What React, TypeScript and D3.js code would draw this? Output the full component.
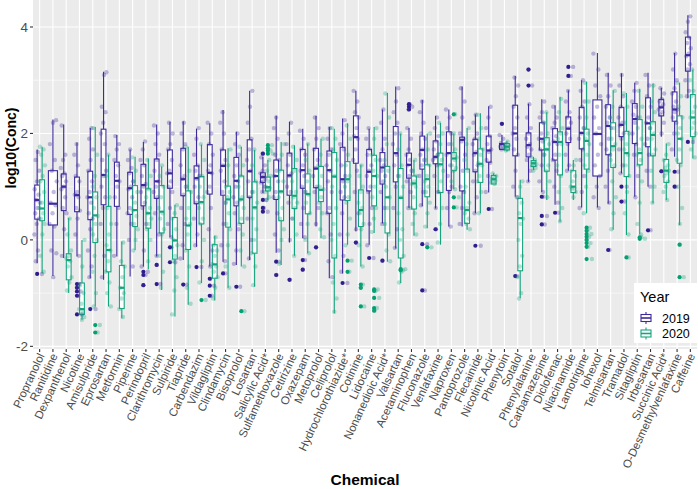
import React from 'react';
import * as d3 from 'd3';

const categories = ['Propranolol','Ranitidine','Dexpanthenol','Nicotine','Amisulpride','Eprosartan','Metformin','Piperine','Perindopril','Clarithromycin','Sulpiride','Tiapride','Carbendazim','Vildagliptin','Clindamycin','Bisoprolol','Losartan','Salicylic Acid*','Sulfamethoxazole','Cetirizine','Oxazepam','Metoprolol','Celiprolol','Hydrochlorothiazide*','Cotinine','Lidocaine','Nonanedioic Acid*','Valsartan','Acetaminophen','Fluconazole','Venlafaxine','Naproxen','Pantoprozole','Flecainide','Nicotinic Acid','Phenytoin','Sotalol','Phenylalanine','Carbamazepine','Diclofenac','Niacinamide','Lamotrigine','Iohexol','Telmisartan','Tramadol','Sitagliptin','Irbesartan','Succinic Acid*','O-Desmethylvenlafaxine','Caffeine'];

// [lower whisker, q1, median, q3, upper whisker]
const box2019: (number[] | null)[] = [
  [-0.44,0.39,0.75,1.03,1.7],[-0.68,0.28,0.68,1.3,2.26],[-0.34,0.55,1.0,1.24,2.17],[-0.31,0.53,0.84,1.18,1.83],[-0.72,0.38,0.8,1.29,2.1],
  [-0.75,0.66,1.22,2.08,3.16],[-0.31,0.63,1.11,1.46,1.97],[-0.69,0.48,0.97,1.27,1.7],[-0.5,0.64,1.03,1.42,1.84],[-0.31,0.78,1.1,1.52,2.17],
  [0.05,0.97,1.25,1.69,2.22],[-0.38,0.83,1.14,1.72,2.23],[-0.13,0.68,1.16,1.39,2.09],[-0.5,0.86,1.26,1.79,2.19],[-0.41,0.84,1.39,1.69,2.44],
  [-0.47,0.64,1.11,1.55,2.03],[-0.38,0.8,1.29,1.88,2.8],[0.88,1.08,1.18,1.26,1.56],[-0.24,0.76,1.2,1.5,2.33],[-0.05,0.84,1.21,1.63,2.22],
  [0.03,0.97,1.31,1.7,2.09],[0.25,0.98,1.34,1.72,2.33],[-0.72,0.5,1.31,1.67,2.12],[-0.63,0.75,1.14,1.74,2.28],[0.16,1.44,1.93,2.33,2.8],
  [-0.09,0.92,1.28,1.7,2.09],[0.31,1.05,1.36,1.64,2.45],[-0.16,1.09,1.63,2.13,2.88],[0.6,1.16,1.41,1.63,2.1],[0.63,1.33,1.69,1.95,2.63],
  [0.59,1.43,1.56,1.86,2.33],[0.25,0.93,1.63,2.03,2.45],[0.25,0.92,1.88,1.93,2.88],[0.5,1.28,1.63,1.89,2.36],[0.89,1.46,1.68,1.95,2.51],
  [1.69,1.7,1.8,1.81,1.97],[0.81,1.58,2.0,2.53,3.08],[1.09,1.56,1.78,2.01,2.56],[0.9,1.69,1.9,2.2,2.64],[0.66,1.5,1.84,2.09,2.53],
  [1.3,1.83,2.09,2.31,2.81],[0.61,1.71,2.01,2.49,3.0],[0.61,1.2,1.99,2.63,3.51],[0.68,1.6,2.14,2.54,3.14],[1.25,1.94,2.16,2.49,3.13],
  [0.81,1.81,2.27,2.56,2.95],[1.0,1.75,2.19,2.67,3.14],[1.94,2.33,2.49,2.64,2.86],[1.56,2.23,2.45,2.78,3.51],[2.66,3.17,3.47,3.81,4.22]
];
const box2020: (number[] | null)[] = [
  [-0.63,0.36,0.59,1.13,1.75],null,[-1.0,-0.75,-0.38,-0.26,0.41],[-1.5,-1.4,-1.3,-0.81,0.0],[-1.25,-0.05,0.46,0.9,2.12],
  [-1.25,-0.6,-0.19,0.63,1.6],[-1.47,-1.29,-0.9,-0.48,-0.03],[-0.19,0.25,0.56,1.02,1.56],[-0.55,0.22,0.5,0.96,1.53],[-0.94,0.13,0.53,1.02,1.38],
  [-1.44,-0.36,-0.01,0.42,0.66],[-1.22,-0.18,0.27,0.92,1.75],[-0.81,0.3,0.71,1.19,1.79],[-1.14,-0.72,-0.46,-0.09,0.08],[-0.9,0.24,0.76,1.01,1.72],
  [-0.5,0.31,0.76,1.2,1.75],[-0.88,-0.25,0.61,1.09,1.69],[0.75,0.92,0.99,1.18,1.5],[-0.47,0.36,0.91,1.31,1.84],[-0.3,0.59,0.83,1.34,1.78],
  [-0.25,0.49,0.86,1.24,1.81],[0.03,0.72,0.94,1.38,1.9],[-1.38,-0.34,1.19,1.64,2.09],[-0.09,0.74,1.14,1.47,2.19],[-0.5,0.25,0.56,0.94,1.41],
  [0.13,0.64,1.2,1.59,2.12],[-0.41,0.13,0.8,1.38,2.76],[-0.81,-0.34,0.79,1.34,2.0],[0.08,0.58,1.06,1.2,1.5],[0.22,0.81,1.14,1.41,2.0],
  [-0.09,0.89,1.42,1.63,2.2],[0.95,1.3,1.53,1.64,2.0],[0.19,0.31,0.56,1.33,2.1],[0.5,1.08,1.43,1.71,2.38],[1.05,1.05,1.14,1.21,1.25],
  [1.66,1.69,1.75,1.81,1.86],[-1.09,-0.58,0.41,0.78,1.13],[1.31,1.38,1.44,1.49,1.56],[0.75,1.29,1.7,1.92,2.4],[0.34,1.22,1.84,2.03,2.69],
  [0.75,0.89,1.0,1.3,1.5],[0.5,1.33,1.86,2.08,2.97],null,[0.19,1.36,1.76,2.2,2.81],[0.09,1.19,1.63,2.04,2.76],
  [0.1,1.41,1.63,2.26,2.84],[0.69,1.58,1.97,2.22,2.94],[0.75,1.08,1.3,1.51,1.81],[0.28,1.44,1.9,2.33,2.95],[1.53,1.94,2.3,2.73,3.2]
];
const outliers2019: number[][] = [
  [-0.64],[],[],[-0.83,-0.9,-0.97,-1.05,-1.4],[-1.3],[],[],[],[-0.6,-0.66,-0.85],[-0.47,-0.83],
  [-0.14,-0.42],[-0.84],[-0.51],[-0.73,-0.86,-1.05],[-0.63],[-0.88],[],[1.62,0.75,0.6,0.53],[-0.41,-0.66],[-0.75],
  [-0.38,-0.56],[-0.14],[],[-0.81],[-0.05],[-0.34],[-0.39],[],[2.45,2.5,2.55],[-0.08,-0.95],
  [0.2],[],[],[-0.11],[0.58],[2.18],[-0.68],[3.2,2.9],[0.81,0.45,0.29],[0.51],
  [3.25,3.08],[],[],[-0.19],[1.0,0.72],[],[0.18],[1.29],[1.28,1.0],[1.84]
];
const outliers2020: number[][] = [
  [],[],[],[],[-1.6,-1.74],[],[],[],[],[],
  [],[],[-1.13],[],[],[-1.34],[],[1.62,1.68,1.72,1.78],[],[],
  [],[],[],[-0.39,-0.6],[-0.84,-0.9,-1.25],[-0.93,-0.96,-1.09,-1.28,-1.33],[],[-0.55,-0.57],[],[-0.14],
  [],[2.36,0.8,0.61],[],[],[],[],[],[],[],[],
  [],[0.23,0.17,0.11,0.06,0.0,-0.06,-0.13,-0.36],[],[],[-0.33],[0.05,0.02],[],[],[-0.09,-0.7],[]
];
const points2019: string[] = [
  '1.65 1.5 1.3 1.1 0.95 0.85 0.75 0.7 0.6 0.5 0.4 0.3 0.1 -0.2 -0.4',
  '2.25 2.2 1.8 1.5 1.3 1.1 0.9 0.7 0.65 0.5 0.3 0.25 -0.2 -0.25 -0.7',
  '2.15 1.6 1.5 1.35 1.25 1.2 1.1 1.0 0.95 0.8 0.6 0.5 0.2 -0.3',
  '1.8 1.6 1.4 1.2 1.1 0.9 0.85 0.8 0.6 0.55 0.4 0.1 -0.3',
  '2.1 1.9 1.7 1.5 1.3 1.1 0.9 0.8 0.7 0.5 0.4 0.2 -0.2 -0.5 -0.7',
  '3.15 3.1 2.5 2.4 2.2 2.0 1.8 1.5 1.3 1.2 1.0 0.8 0.6 0.3 -0.3 -0.7',
  '1.95 1.8 1.7 1.5 1.4 1.2 1.1 1.0 0.8 0.6 0.3 -0.3',
  '1.7 1.5 1.35 1.25 1.1 1.0 0.95 0.8 0.6 0.5 0.3 0.0 -0.5',
  '1.85 1.7 1.5 1.4 1.2 1.05 1.0 0.9 0.7 0.6 0.3 -0.2 -0.5',
  '2.15 2.0 1.8 1.6 1.5 1.3 1.1 1.0 0.9 0.8 0.5 0.1 -0.3',
  '2.2 2.0 1.8 1.7 1.5 1.3 1.25 1.1 1.0 0.9 0.6 0.3 0.05',
  '2.2 2.0 1.8 1.7 1.4 1.2 1.15 1.0 0.85 0.6 0.3 -0.1 -0.35',
  '2.1 1.9 1.6 1.4 1.3 1.2 1.15 1.0 0.8 0.7 0.4 0.1 -0.1',
  '2.2 2.0 1.8 1.6 1.4 1.3 1.25 1.0 0.9 0.6 0.2 -0.2 -0.5',
  '2.4 2.2 2.0 1.7 1.5 1.4 1.3 1.1 0.9 0.7 0.3 -0.1 -0.4',
  '2.0 1.8 1.6 1.4 1.2 1.1 1.0 0.8 0.7 0.5 0.2 -0.2 -0.45',
  '2.8 2.5 2.2 1.9 1.7 1.5 1.3 1.1 0.9 0.8 0.4 0.0 -0.35',
  '1.55 1.4 1.3 1.25 1.2 1.18 1.15 1.1 1.08 1.0 0.9',
  '2.3 2.1 1.9 1.6 1.5 1.3 1.2 1.1 0.9 0.8 0.5 0.1 -0.2',
  '2.2 2.0 1.8 1.6 1.4 1.25 1.2 1.0 0.9 0.7 0.4 0.0',
  '2.05 1.9 1.7 1.6 1.4 1.3 1.2 1.0 0.9 0.6 0.3 0.05',
  '2.3 2.1 1.9 1.7 1.5 1.35 1.2 1.0 0.9 0.6 0.3',
  '2.1 1.9 1.7 1.6 1.4 1.3 1.1 0.9 0.6 0.5 0.1 -0.4 -0.7',
  '2.25 2.0 1.8 1.7 1.4 1.2 1.1 0.9 0.8 0.5 0.1 -0.3 -0.6',
  '2.8 2.6 2.4 2.3 2.1 1.95 1.9 1.7 1.5 1.3 0.9 0.5 0.2',
  '2.1 1.9 1.7 1.6 1.4 1.3 1.2 1.0 0.9 0.6 0.3 -0.1',
  '2.45 2.2 1.9 1.7 1.5 1.4 1.3 1.2 1.1 0.9 0.6 0.3',
  '2.85 2.6 2.4 2.2 2.0 1.8 1.6 1.4 1.2 1.0 0.6 0.2 -0.15',
  '2.1 1.9 1.7 1.6 1.5 1.4 1.3 1.2 1.1 0.9 0.6',
  '2.6 2.4 2.2 2.0 1.9 1.7 1.6 1.5 1.4 1.2 0.9 0.65',
  '2.3 2.1 1.95 1.85 1.7 1.6 1.55 1.5 1.4 1.2 0.9 0.6',
  '2.45 2.3 2.1 2.0 1.8 1.6 1.4 1.2 1.0 0.9 0.6 0.25',
  '2.85 2.6 2.3 2.0 1.9 1.85 1.6 1.3 1.0 0.9 0.6 0.3',
  '2.35 2.2 2.0 1.9 1.8 1.65 1.6 1.4 1.3 1.1 0.8 0.5',
  '2.5 2.3 2.1 1.95 1.8 1.7 1.65 1.5 1.45 1.2 0.9',
  '1.97 1.9 1.82 1.8 1.78 1.75 1.72 1.7',
  '3.05 2.9 2.7 2.5 2.3 2.1 2.0 1.9 1.7 1.6 1.3 1.0 0.8',
  '2.55 2.3 2.1 2.0 1.9 1.8 1.75 1.7 1.6 1.5 1.3 1.1',
  '2.6 2.4 2.3 2.2 2.0 1.9 1.85 1.7 1.6 1.4 1.1 0.9',
  '2.5 2.3 2.2 2.1 1.95 1.85 1.8 1.6 1.5 1.3 1.0 0.7',
  '2.8 2.6 2.4 2.3 2.2 2.1 2.0 1.9 1.8 1.6 1.4 1.3',
  '3.0 2.8 2.6 2.5 2.3 2.1 2.0 1.9 1.7 1.5 1.2 0.9 0.6',
  '3.5 3.2 2.9 2.7 2.5 2.3 2.1 2.0 1.8 1.6 1.4 1.2 1.0 0.8 0.6',
  '3.1 2.9 2.7 2.5 2.3 2.2 2.1 1.9 1.7 1.6 1.3 1.0 0.7',
  '3.1 2.9 2.7 2.5 2.3 2.2 2.15 2.0 1.9 1.7 1.4 1.25',
  '2.95 2.8 2.6 2.5 2.35 2.3 2.2 2.0 1.8 1.6 1.2 0.8',
  '3.1 2.9 2.7 2.5 2.3 2.2 2.1 1.9 1.8 1.6 1.3 1.0',
  '2.85 2.75 2.65 2.6 2.55 2.5 2.45 2.4 2.35 2.2 2.0',
  '3.5 3.2 3.0 2.85 2.75 2.6 2.5 2.45 2.4 2.3 2.2 2.0 1.7',
  '4.2 4.1 3.9 3.8 3.7 3.6 3.5 3.45 3.3 3.2 3.0 2.8 2.7'
];
const points2020: string[] = [
  '1.75 1.7 1.6 1.4 1.2 1.1 0.9 0.7 0.6 0.5 0.4 0.3 0.1 -0.3 -0.6',
  '',
  '0.4 0.1 -0.2 -0.3 -0.35 -0.4 -0.5 -0.7 -0.8 -0.95',
  '0.0 -0.5 -0.85 -1.0 -1.2 -1.3 -1.35 -1.4 -1.45 -1.5',
  '2.1 1.6 1.2 1.0 0.8 0.6 0.45 0.3 0.1 0.0 -0.3 -0.6 -1.0 -1.25',
  '1.6 1.2 0.8 0.6 0.3 0.1 -0.1 -0.2 -0.4 -0.6 -0.8 -1.0 -1.25',
  '-0.05 -0.4 -0.5 -0.7 -0.9 -1.0 -1.1 -1.3 -1.45',
  '1.55 1.3 1.1 0.9 0.7 0.55 0.45 0.3 0.2 0.0 -0.2',
  '1.5 1.2 0.95 0.8 0.6 0.5 0.4 0.3 0.2 0.0 -0.4',
  '1.4 1.2 1.0 0.8 0.6 0.5 0.4 0.2 0.1 -0.3 -0.6 -0.9',
  '0.65 0.5 0.4 0.2 0.0 -0.1 -0.3 -0.4 -0.7 -0.95 -1.4',
  '1.75 1.3 1.0 0.9 0.6 0.4 0.3 0.1 -0.2 -0.5 -0.9 -1.2',
  '1.8 1.5 1.2 1.0 0.8 0.7 0.6 0.4 0.3 0.0 -0.4 -0.8',
  '0.05 -0.1 -0.2 -0.3 -0.45 -0.5 -0.6 -0.7 -0.9 -1.1',
  '1.7 1.4 1.0 0.9 0.8 0.7 0.5 0.3 0.2 -0.1 -0.5 -0.9',
  '1.75 1.4 1.2 1.0 0.8 0.75 0.6 0.4 0.3 0.1 -0.2 -0.5',
  '1.7 1.4 1.1 0.9 0.7 0.6 0.4 0.2 0.0 -0.25 -0.5 -0.85',
  '1.5 1.3 1.2 1.1 1.0 0.98 0.95 0.9 0.8 0.75',
  '1.8 1.6 1.3 1.1 0.9 0.8 0.6 0.4 0.2 0.0 -0.45',
  '1.75 1.5 1.3 1.1 0.9 0.8 0.7 0.6 0.4 0.1 -0.3',
  '1.8 1.5 1.3 1.1 0.9 0.85 0.7 0.5 0.3 0.0 -0.25',
  '1.9 1.6 1.4 1.2 1.0 0.95 0.8 0.7 0.5 0.2 0.05',
  '2.1 1.9 1.7 1.5 1.2 1.0 0.6 0.3 0.0 -0.3 -0.8 -1.1 -1.35',
  '2.15 1.9 1.6 1.4 1.2 1.1 1.0 0.8 0.7 0.4 0.1 -0.1',
  '1.4 1.2 1.0 0.9 0.7 0.6 0.5 0.3 0.2 -0.1 -0.5',
  '2.1 1.9 1.6 1.5 1.3 1.2 1.0 0.8 0.6 0.4 0.15',
  '2.75 2.3 1.8 1.5 1.3 1.0 0.8 0.6 0.3 0.1 -0.2 -0.4',
  '2.0 1.7 1.4 1.2 1.0 0.8 0.5 0.2 0.0 -0.3 -0.6 -0.8',
  '1.5 1.3 1.2 1.1 1.05 1.0 0.8 0.6 0.5 0.3 0.1',
  '2.0 1.7 1.5 1.4 1.2 1.1 1.0 0.9 0.7 0.5 0.25',
  '2.2 2.0 1.8 1.6 1.5 1.4 1.3 1.1 0.9 0.6 0.3 -0.05',
  '2.0 1.8 1.7 1.6 1.55 1.5 1.4 1.35 1.3 1.1 0.95',
  '2.1 1.8 1.5 1.3 1.0 0.7 0.6 0.5 0.4 0.3 0.2',
  '2.35 2.1 1.9 1.7 1.6 1.45 1.4 1.2 1.1 0.9 0.5',
  '1.25 1.2 1.18 1.15 1.12 1.1 1.08 1.05',
  '1.85 1.8 1.78 1.75 1.72 1.7 1.68',
  '1.1 1.0 0.8 0.7 0.5 0.4 0.3 0.0 -0.3 -0.5 -0.7 -1.0 -1.1',
  '1.55 1.5 1.45 1.42 1.4 1.38 1.35 1.3',
  '2.4 2.2 2.0 1.9 1.8 1.7 1.6 1.4 1.3 1.1 0.8',
  '2.65 2.4 2.1 2.0 1.9 1.8 1.6 1.4 1.2 0.9 0.6 0.35',
  '1.5 1.4 1.3 1.2 1.1 1.0 0.98 0.95 0.9 0.8',
  '2.95 2.6 2.3 2.1 2.0 1.9 1.8 1.6 1.4 1.3 1.0 0.5',
  '',
  '2.8 2.5 2.3 2.1 1.9 1.8 1.7 1.5 1.4 1.1 0.8 0.5 0.2',
  '2.75 2.5 2.2 2.0 1.8 1.7 1.6 1.4 1.2 0.9 0.5 0.1',
  '2.8 2.5 2.3 2.1 1.9 1.7 1.6 1.5 1.4 1.1 0.7 0.3 0.1',
  '2.9 2.6 2.4 2.2 2.1 2.0 1.9 1.7 1.6 1.3 1.0 0.7',
  '1.8 1.6 1.5 1.4 1.35 1.3 1.25 1.2 1.1 1.0 0.9 0.75',
  '2.95 2.7 2.5 2.3 2.1 2.0 1.9 1.7 1.5 1.4 1.0 0.6 0.3',
  '3.2 3.0 2.8 2.7 2.5 2.4 2.3 2.2 2.1 2.0 1.9 1.7 1.55'
];
const yTicks = [-2, 0, 2, 4];
const yMinor = [-1, 1, 3];
const years = ['2019', '2020'];
const yearColors = ['#3F2A9C', '#16A47E'];
const outlierColors = ['#2E1B8C', '#00A070'];

const W = 698, H = 489;
const PL = 33, PR = 697, PT = 0, PB = 349;

export default function App() {
  const x = d3.scaleBand<string>().domain(categories).range([PL, PR]).padding(0);
  const y = d3.scaleLinear().domain([-2.05, 4.507]).range([PB, PT]);
  const bw = x.bandwidth();
  const font = '"Liberation Sans", Arial, sans-serif';

  const boxes: React.ReactNode[] = [];
  const jit: React.ReactNode[] = [];
  categories.forEach((c, ci) => {
    const xc = (x(c) as number) + bw / 2;
    const stats = [box2019[ci], box2020[ci]];
    const outs = [outliers2019[ci], outliers2020[ci]];
    const pts = [points2019[ci], points2020[ci]];
    const both = stats[0] && stats[1];
    stats.forEach((s, yi) => {
      if (!s) return;
      const cx = both ? xc + (yi === 0 ? -1 : 1) * bw * 0.1875 : xc;
      const w = both ? bw * 0.36 : bw * 0.68;
      const col = yearColors[yi];
      const [lo, q1, med, q3, hi] = s;
      boxes.push(
        <g key={`b${ci}-${yi}`}>
          <line x1={cx} x2={cx} y1={y(hi)} y2={y(q3)} stroke={col} strokeWidth={1.1} />
          <line x1={cx} x2={cx} y1={y(q1)} y2={y(lo)} stroke={col} strokeWidth={1.1} />
          <rect x={cx - w / 2} y={y(q3)} width={w} height={Math.max(0.5, y(q1) - y(q3))} fill="white" stroke={col} strokeWidth={1.1} />
          <line x1={cx - w / 2} x2={cx + w / 2} y1={y(med)} y2={y(med)} stroke={col} strokeWidth={2.2} />
          {outs[yi].map((o, oi) => (
            <circle key={oi} cx={cx} cy={y(o)} r={2.1} fill={outlierColors[yi]} />
          ))}
        </g>
      );
      const vals = (pts[yi] ? pts[yi].split(' ').map(Number) : []).concat(outs[yi]);
      const jw = both ? 3 : 4;
      vals.forEach((v, k) => {
        const off = ((((k + 1) * 0.618034 + ci * 0.271 + yi * 0.5) % 1) - 0.5) * 2 * jw;
        jit.push(<circle key={`p${ci}-${yi}-${k}`} cx={cx + off + (outs[yi].includes(v) ? 2.5 : 0)} cy={y(v)} r={2.2} fill={col} fillOpacity={0.32} />);
      });
    });
  });

  return (
    <svg width={W} height={H} style={{ position: 'absolute', left: 0, top: 0, background: 'white' }} fontFamily={font}>
      <rect x={PL} y={PT} width={PR - PL} height={PB - PT} fill="#EBEBEB" />
      {yMinor.map(t => <line key={`m${t}`} x1={PL} x2={PR} y1={y(t)} y2={y(t)} stroke="white" strokeWidth={0.55} />)}
      {yTicks.map(t => <line key={`g${t}`} x1={PL} x2={PR} y1={y(t)} y2={y(t)} stroke="white" strokeWidth={1.1} />)}
      {categories.map(c => {
        const xc = (x(c) as number) + bw / 2;
        return <line key={`gx${c}`} x1={xc} x2={xc} y1={PT} y2={PB} stroke="white" strokeWidth={1.1} />;
      })}
      {boxes}
      {jit}
      {yTicks.map(t => (
        <g key={`yt${t}`}>
          <line x1={PL - 3} x2={PL} y1={y(t)} y2={y(t)} stroke="#333" strokeWidth={1.1} />
          <text x={PL - 5} y={y(t)} dy="0.36em" textAnchor="end" fontSize={13.5} fill="#4D4D4D">{t}</text>
        </g>
      ))}
      {categories.map(c => {
        const xc = (x(c) as number) + bw / 2;
        return (
          <g key={`xt${c}`}>
            <line x1={xc} x2={xc} y1={PB} y2={PB + 3} stroke="#333" strokeWidth={1.1} />
            <text transform={`translate(${xc + 1.5},${PB + 5}) rotate(-65)`} dy="0.35em" textAnchor="end" fontSize={11.5} fill="#4D4D4D">{c}</text>
          </g>
        );
      })}
      <text transform={`translate(16,148) rotate(-90)`} textAnchor="middle" fontSize={14} fontWeight="bold" fill="#000">log10(Conc)</text>
      <text x={(PL + PR) / 2} y={485} textAnchor="middle" fontSize={15.5} fontWeight="bold" fill="#000">Chemical</text>
      <g>
        <rect x={634} y={283} width={64} height={60} fill="white" />
        <text x={640} y={302} fontSize={14.5} fill="#000">Year</text>
        {years.map((yr, i) => {
          const yc = 318 + i * 15.5;
          const kx = 646;
          return (
            <g key={yr}>
              <line x1={kx} x2={kx} y1={yc - 6} y2={yc + 6} stroke={yearColors[i]} strokeWidth={1.1} />
              <rect x={kx - 5} y={yc - 3.5} width={10} height={7} fill="white" stroke={yearColors[i]} strokeWidth={1.1} />
              <line x1={kx - 5} x2={kx + 5} y1={yc} y2={yc} stroke={yearColors[i]} strokeWidth={1.6} />
              <text x={662} y={yc} dy="0.36em" fontSize={12.5} fill="#000">{yr}</text>
            </g>
          );
        })}
      </g>
    </svg>
  );
}
